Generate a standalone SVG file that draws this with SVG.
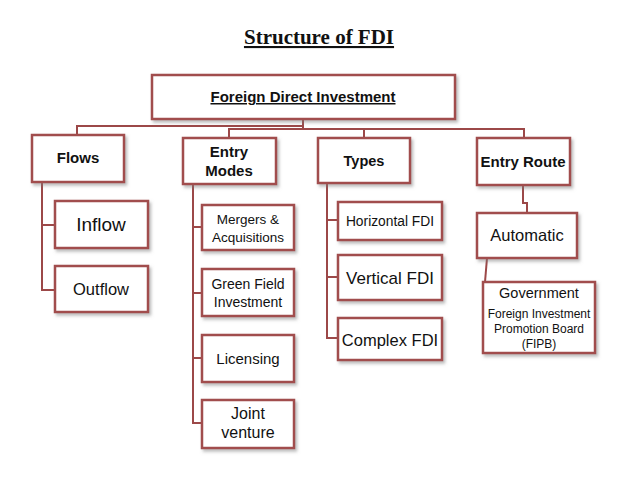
<svg xmlns="http://www.w3.org/2000/svg" width="638" height="479" viewBox="0 0 638 479">
<defs>
<filter id="sh" x="-10%" y="-10%" width="130%" height="140%">
<feDropShadow dx="2" dy="2.5" stdDeviation="1.5" flood-color="#7a7a7a" flood-opacity="0.5"/>
</filter>
</defs>
<style>
.box{fill:#fff;stroke:#a14d4d;stroke-width:2.5;filter:url(#sh)}
.ln{fill:none;stroke:#9c4848;stroke-width:2}
text{font-family:"Liberation Sans",Arial,sans-serif;fill:#111;text-anchor:middle}
.b{font-weight:bold}
</style>
<rect width="638" height="479" fill="#fff"/>
<text x="319" y="44" style="font-family:'Liberation Serif','Times New Roman',serif;font-weight:bold;font-size:21px" text-decoration="underline">Structure of FDI</text>
<g id="connectors">
<polyline class="ln" points="303,119 303,129"/>
<polyline class="ln" points="77,135 77,126 303,126"/>
<polyline class="ln" points="229,138 229,129 524,129 524,138"/>
<polyline class="ln" points="364,129 364,138"/>
<polyline class="ln" points="55,225 42,225 42,182"/>
<polyline class="ln" points="42,225 42,290 55,290"/>
<polyline class="ln" points="193,184 193,423 202,423"/>
<polyline class="ln" points="193,227 202,227"/>
<polyline class="ln" points="193,293 202,293"/>
<polyline class="ln" points="193,358 202,358"/>
<polyline class="ln" points="327,183 327,338 338,338"/>
<polyline class="ln" points="327,220 338,220"/>
<polyline class="ln" points="327,277 338,277"/>
<polyline class="ln" points="523,185 523,203 527,203 527,213"/>
<polyline class="ln" points="487,258 485,282"/>
</g>
<g id="fdi"><rect class="box" x="152" y="75" width="303" height="44"/><text class="b" x="303" y="102" font-size="15" text-decoration="underline">Foreign Direct Investment</text></g>
<g id="flows"><rect class="box" x="32" y="135" width="92" height="47"/><text class="b" x="78" y="163" font-size="15">Flows</text></g>
<g id="inflow"><rect class="box" x="55" y="201" width="93" height="47"/><text x="101" y="231" font-size="19">Inflow</text></g>
<g id="outflow"><rect class="box" x="55" y="266" width="93" height="46"/><text x="101" y="295" font-size="16.5">Outflow</text></g>
<g id="entry-modes"><rect class="box" x="183" y="138" width="93" height="46"/><text class="b" x="229" y="157" font-size="15">Entry</text><text class="b" x="229" y="176" font-size="15">Modes</text></g>
<g id="mergers"><rect class="box" x="202" y="205" width="92" height="45"/><text x="248" y="224" font-size="13.5">Mergers &amp;</text><text x="248" y="242" font-size="13.5">Acquisitions</text></g>
<g id="greenfield"><rect class="box" x="202" y="269" width="92" height="47"/><text x="248" y="289" font-size="14">Green Field</text><text x="248" y="307" font-size="14">Investment</text></g>
<g id="licensing"><rect class="box" x="202" y="335" width="92" height="47"/><text x="248" y="364" font-size="15">Licensing</text></g>
<g id="joint"><rect class="box" x="202" y="400" width="92" height="48"/><text x="248" y="419" font-size="16">Joint</text><text x="248" y="438" font-size="16">venture</text></g>
<g id="types"><rect class="box" x="318" y="138" width="92" height="45"/><text class="b" x="364" y="166" font-size="14.5">Types</text></g>
<g id="horizontal"><rect class="box" x="338" y="202" width="104" height="38"/><text x="390" y="226" font-size="13.8">Horizontal FDI</text></g>
<g id="vertical"><rect class="box" x="338" y="255" width="104" height="45"/><text x="390" y="284" font-size="17">Vertical FDI</text></g>
<g id="complex"><rect class="box" x="338" y="318" width="104" height="42"/><text x="390" y="346" font-size="16.5">Complex FDI</text></g>
<g id="entry-route"><rect class="box" x="477" y="138" width="93" height="47"/><text class="b" x="523" y="167" font-size="15">Entry Route</text></g>
<g id="automatic"><rect class="box" x="477" y="213" width="100" height="45"/><text x="527" y="241" font-size="16.5">Automatic</text></g>
<g id="government"><rect class="box" x="483" y="282" width="112" height="71"/><text x="539" y="298" font-size="14.5">Government</text><text x="539" y="318" font-size="12">Foreign Investment</text><text x="539" y="333" font-size="12">Promotion Board</text><text x="539" y="348" font-size="12">(FIPB)</text></g>
</svg>
